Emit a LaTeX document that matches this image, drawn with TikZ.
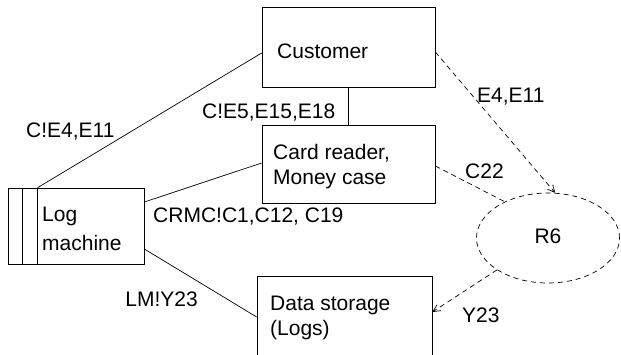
\documentclass[tikz,border=0pt]{standalone}
\usepackage{fontspec}
\setmainfont{Liberation Sans}
\usetikzlibrary{shapes.geometric,arrows.meta,calc}
\begin{document}
\begin{tikzpicture}[x=1pt,y=-1pt,
  every node/.style={font=\fontsize{21}{25}\selectfont},
  box/.style={draw,line width=0.7pt,inner sep=0pt},
  txt/.style={inner sep=0pt,anchor=base west},
  link/.style={line width=0.7pt},
  dlink/.style={line width=0.7pt,dash pattern=on 5pt off 4pt},
  tip/.style={-{Straight Barb[length=7pt,width=7pt,line width=0.7pt]}}]
\useasboundingbox (0,0) rectangle (621,354);
\clip (0,0) rectangle (621,354);
\fill[white] (0,0) rectangle (621,354);

% domains
\node[box,minimum width=173pt,minimum height=80pt] (cust) at (348.5,47) {};
\node[box,minimum width=173pt,minimum height=78pt] (card) at (348.5,164) {};
\node[box,minimum width=136pt,minimum height=76pt] (log) at (76,226) {};
\node[box,minimum width=175pt,minimum height=100pt] (ds) at (344.5,326) {};
\draw[link] ($(log.north west)+(15,0)$) -- ($(log.south west)+(15,0)$);
\draw[link] ($(log.north west)+(30,0)$) -- ($(log.south west)+(30,0)$);

% requirement
\node[draw,ellipse,dlink,minimum width=143pt,minimum height=90pt,inner sep=0pt] (r6) at (548,238) {};
\node[inner sep=0pt,anchor=base] (r6t) at (548,243) {R6};

% box texts
\node[txt] (tcust) at (277,58) {Customer};
\node[txt] (tcard1) at (273,159) {Card reader,};
\node[txt] (tcard2) at (273,184) {Money case};
\node[txt] (tlog1) at (42,221) {Log};
\node[txt] (tlog2) at (42,250) {machine};
\node[txt] (tds1) at (270,310) {Data storage};
\node[txt] (tds2) at (270,335) {(Logs)};

% interfaces
\draw[link] ($(log.north west)+(30,0)$) -- ($(cust.west)+(0,6)$);
\draw[link] (cust.south) -- (card.north);
\draw[link] ($(log.east)+(0,-24)$) -- ($(card.west)+(0,-1)$);
\draw[link] ($(log.east)+(0,23)$) -- ($(ds.west)+(0,-9)$);

% requirement references
\draw[dlink,tip] ($(cust.east)+(0,5)$) -- (r6.81);
\draw[dlink] ($(card.east)+(0,2)$) -- (r6.140);
\draw[dlink,tip] (r6.212) -- ($(ds.east)+(0,-14)$);

% phenomena labels
\node[txt] (l1) at (26,137) {C!E4,E11};
\node[txt] (l2) at (202,118) {C!E5,E15,E18};
\node[txt] (l3) at (153,222) {CRMC!C1,C12, C19};
\node[inner sep=0pt,anchor=base east] (l4) at (198,306) {LM!Y23};
\node[txt] (l5) at (477,102) {E4,E11};
\node[txt] (l6) at (465,178) {C22};
\node[txt] (l7) at (462,322) {Y23};
\end{tikzpicture}
\end{document}
